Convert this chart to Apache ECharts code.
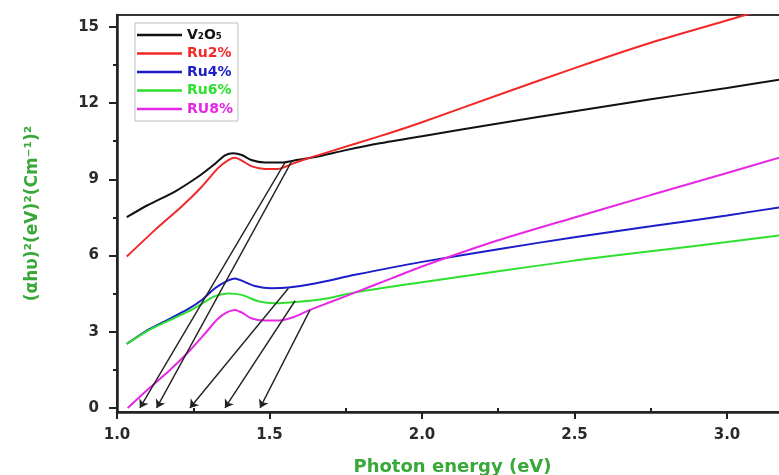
<!DOCTYPE html>
<html>
<head>
<meta charset="utf-8">
<script src="https://cdn.jsdelivr.net/npm/echarts@6/dist/echarts.min.js"></script>
<style>
  html, body { margin: 0; padding: 0; background: #fff; }
  #chart { width: 779px; height: 475px; }
</style>
</head>
<body>
<div id="chart"></div>
<script>
// ---- data ----
const seriesNames = ['V₂O₅', 'Ru2%', 'Ru4%', 'Ru6%', 'RU8%'];

const v2o5X = [1.032, 1.10, 1.19, 1.267, 1.32, 1.354, 1.381, 1.409, 1.44, 1.485, 1.54, 1.594, 1.65, 1.75, 1.862, 2.0, 2.25, 2.5, 2.75, 3.0, 3.2];
const v2o5Y = [7.51, 7.98, 8.52, 9.11, 9.6, 9.94, 10.03, 9.96, 9.76, 9.66, 9.66, 9.77, 9.88, 10.15, 10.42, 10.7, 11.2, 11.68, 12.15, 12.6, 12.98];

const ru2X = [1.032, 1.125, 1.212, 1.278, 1.332, 1.365, 1.387, 1.409, 1.44, 1.485, 1.529, 1.573, 1.627, 1.7, 1.862, 2.0, 2.25, 2.5, 2.75, 3.06, 3.2];
const ru2Y = [5.96, 7.01, 7.93, 8.71, 9.45, 9.76, 9.85, 9.74, 9.52, 9.41, 9.41, 9.6, 9.83, 10.1, 10.7, 11.25, 12.32, 13.38, 14.38, 15.47, 16.0];

const ru4X = [1.032, 1.103, 1.168, 1.234, 1.278, 1.321, 1.365, 1.387, 1.409, 1.452, 1.507, 1.562, 1.649, 1.78, 2.0, 2.25, 2.5, 2.75, 3.0, 3.2];
const ru4Y = [2.52, 3.08, 3.48, 3.9, 4.25, 4.71, 5.02, 5.1, 5.01, 4.8, 4.71, 4.74, 4.9, 5.24, 5.75, 6.25, 6.72, 7.15, 7.58, 7.95];

const ru6X = [1.032, 1.103, 1.168, 1.234, 1.278, 1.321, 1.365, 1.409, 1.463, 1.518, 1.605, 1.693, 1.78, 2.0, 2.25, 2.5, 2.75, 3.0, 3.2];
const ru6Y = [2.52, 3.05, 3.43, 3.8, 4.1, 4.4, 4.51, 4.45, 4.2, 4.12, 4.19, 4.32, 4.55, 4.95, 5.38, 5.8, 6.17, 6.53, 6.83];

const ru8X = [1.035, 1.1, 1.17, 1.234, 1.29, 1.33, 1.36, 1.387, 1.41, 1.44, 1.485, 1.53, 1.58, 1.627, 1.7, 1.78, 1.9, 2.0, 2.25, 2.5, 2.75, 3.0, 3.2];
const ru8Y = [0.0, 0.72, 1.45, 2.2, 2.95, 3.5, 3.76, 3.86, 3.75, 3.53, 3.44, 3.44, 3.58, 3.83, 4.17, 4.54, 5.1, 5.57, 6.6, 7.5, 8.38, 9.25, 9.95];

// Tauc extrapolation lines: start point on the curve and x intercept
const tangentStartX = [1.55, 1.573, 1.562, 1.584, 1.633];
const tangentStartY = [9.65, 9.72, 4.71, 4.22, 3.86];
const tangentEndX   = [1.075, 1.13, 1.239, 1.354, 1.469];

const xTicks = [1.0, 1.5, 2.0, 2.5, 3.0];
const xMinorTicks = [1.25, 1.75, 2.25, 2.75];
const yTicks = [0, 3, 6, 9, 12, 15];
const yMinorTicks = [1.5, 4.5, 7.5, 10.5, 13.5];

// ---- chart ----
const colors = ['#111111', '#f22828', '#1c1cc8', '#2ee02e', '#e628e6'];
const xs = [v2o5X, ru2X, ru4X, ru6X, ru8X];
const ys = [v2o5Y, ru2Y, ru4Y, ru6Y, ru8Y];
const zip = (a, b) => a.map((v, i) => [v, b[i]]);

const X_MIN = 1.0, X_MAX = 3.2, Y_MIN = -0.16, Y_MAX = 15.47;
const font = 'DejaVu Sans';
const green = '#38a838';

const series = seriesNames.map((n, i) => ({
  name: n,
  type: 'line',
  data: zip(xs[i], ys[i]),
  symbol: 'none',
  smooth: 0.25,
  lineStyle: { color: colors[i], width: 2 },
  itemStyle: { color: colors[i] },
  clip: true,
  z: 3
}));

series.push({
  name: 'tangents',
  type: 'line',
  data: [],
  symbol: 'none',
  markLine: {
    silent: true,
    symbol: ['none', 'arrow'],
    symbolSize: 8,
    label: { show: false },
    lineStyle: { color: '#222', width: 1.4, type: 'solid' },
    emphasis: { disabled: true },
    data: tangentStartX.map((x0, i) => [
      { coord: [x0, tangentStartY[i]] },
      { coord: [tangentEndX[i], 0] }
    ])
  },
  z: 2
});

const chart = echarts.init(document.getElementById('chart'));
chart.setOption({
  backgroundColor: '#ffffff',
  animation: false,
  grid: {
    left: 117, top: 15, bottom: 63, right: -9,
    outerBoundsMode: 'none',
    containLabel: false,
    show: true, borderColor: '#333', borderWidth: 2
  },
  legend: {
    orient: 'vertical',
    left: 135, top: 23,
    padding: [4, 5, 4, 2],
    icon: 'rect',
    itemWidth: 45, itemHeight: 2.5, itemGap: 2.5, itemTextGap: 3,
    borderColor: '#bdbdbd', borderWidth: 1,
    backgroundColor: '#fff',
    textStyle: { fontFamily: font, fontWeight: 'bold', fontSize: 14, lineHeight: 16 },
    data: seriesNames.map((n, i) => ({ name: n, textStyle: { color: colors[i] } }))
  },
  xAxis: [{
    type: 'value', min: X_MIN, max: X_MAX, interval: 0.5,
    name: 'Photon energy (eV)',
    nameLocation: 'middle', nameGap: 46,
    nameTextStyle: { color: green, fontFamily: font, fontWeight: 'bold', fontSize: 18 },
    axisLine: { show: true, onZero: false, lineStyle: { color: '#222', width: 2.5 } },
    axisTick: { show: true, inside: false, length: 7, customValues: xTicks, lineStyle: { color: '#222', width: 2 } },
    axisLabel: { show: true, customValues: xTicks, margin: 16, color: '#2a2a2a', fontFamily: font, fontWeight: 'bold', fontSize: 15,
      formatter: v => v.toFixed(1) },
    splitLine: { show: false }
  }, {
    type: 'value', min: X_MIN, max: X_MAX, position: 'bottom',
    axisLine: { show: false },
    axisTick: { show: true, inside: false, length: 4, customValues: xMinorTicks, lineStyle: { color: '#222', width: 2 } },
    axisLabel: { show: false },
    splitLine: { show: false }
  }],
  yAxis: [{
    type: 'value', min: Y_MIN, max: Y_MAX,
    name: '(αhυ)²(eV)²(Cm⁻¹)²',
    nameLocation: 'middle', nameGap: 76,
    nameTextStyle: { color: green, fontFamily: font, fontWeight: 'bold', fontSize: 17 },
    axisLine: { show: true, onZero: false, lineStyle: { color: '#222', width: 2.5 } },
    axisTick: { show: true, inside: false, length: 8, customValues: yTicks, lineStyle: { color: '#222', width: 2 } },
    axisLabel: { show: true, customValues: yTicks, margin: 18, color: '#2a2a2a', fontFamily: font, fontWeight: 'bold', fontSize: 15 },
    splitLine: { show: false }
  }, {
    type: 'value', min: Y_MIN, max: Y_MAX, position: 'left',
    axisLine: { show: false },
    axisTick: { show: true, inside: false, length: 4, customValues: yMinorTicks, lineStyle: { color: '#222', width: 2 } },
    axisLabel: { show: false },
    splitLine: { show: false }
  }],
  series: series
});
</script>
</body>
</html>
